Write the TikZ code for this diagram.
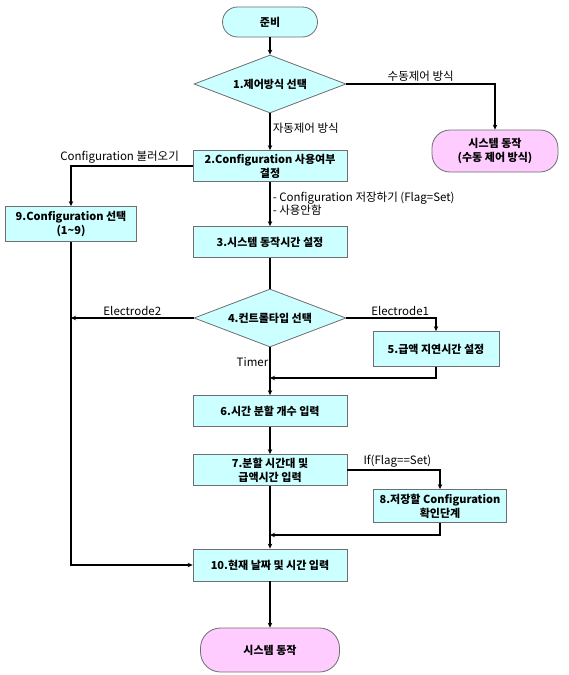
\documentclass[tikz,border=0pt]{standalone}
\usepackage{fontspec}
\setmainfont{Noto Sans CJK KR}
\usetikzlibrary{arrows.meta,shapes.geometric}
\definecolor{boxcyan}{RGB}{204,255,255}
\definecolor{termpink}{RGB}{255,204,255}
\definecolor{edgegray}{RGB}{110,110,110}
\tikzset{
  stepbox/.style={draw=edgegray, fill=boxcyan, align=center, line width=0.8pt,
                  font=\fontsize{11}{14}\selectfont\bfseries,
                  minimum width=154pt, minimum height=31pt, inner sep=2pt},
  choice/.style={diamond, draw=edgegray, fill=boxcyan, aspect=2.6, line width=0.8pt,
                 font=\fontsize{11}{14}\selectfont\bfseries,
                 minimum width=152pt, minimum height=58pt, inner sep=0pt},
  term/.style={draw=edgegray, rounded corners=15pt, align=center, line width=0.8pt,
               font=\fontsize{11}{14}\selectfont\bfseries, inner sep=2pt},
  lbl/.style={font=\fontsize{11.5}{13}\selectfont, inner sep=2pt},
  link/.style={-{Stealth[length=5pt,width=4.5pt]}, line width=1.5pt},
  wire/.style={line width=1.5pt}
}
\begin{document}
\begin{tikzpicture}[x=1pt,y=-1pt]
  \useasboundingbox (0,0) rectangle (568,675);
  \node[term, fill=boxcyan, minimum width=95pt, minimum height=30pt] (start) at (270,22) {준비};
  \node[choice] (d1) at (270,84) {1.제어방식 선택};
  \node[term, fill=termpink, rounded corners=18pt, minimum width=126pt, minimum height=42pt] (manual) at (495,151) {시스템 동작\\(수동 제어 방식)};
  \node[stepbox] (n2) at (270,166) {2.Configuration 사용여부\\결정};
  \node[stepbox, minimum width=131pt, minimum height=35pt] (n9) at (71,224) {9.Configuration 선택\\(1\textasciitilde 9)};
  \node[stepbox] (n3) at (270,242) {3.시스템 동작시간 설정};
  \node[choice] (d4) at (270,318) {4.컨트롤타입 선택};
  \node[stepbox, minimum width=126pt, minimum height=35pt] (n5) at (436,349) {5.급액 지연시간 설정};
  \node[stepbox] (n6) at (270,411) {6.시간 분할 개수 입력};
  \node[stepbox] (n7) at (270,470) {7.분할 시간대 및\\급액시간 입력};
  \node[stepbox, minimum width=133pt, minimum height=33pt] (n8) at (440,506) {8.저장할 Configuration\\확인단계};
  \node[stepbox, minimum height=32pt] (n10) at (270,565) {10.현재 날짜 및 시간 입력};
  \node[term, fill=termpink, rounded corners=20pt, minimum width=139pt, minimum height=44pt] (stop) at (270,650) {시스템 동작};
  \coordinate (j1) at (270,378);
  \coordinate (j2) at (270,535);
  % main column
  \draw[link] (start) -- (d1);
  \draw[link] (d1) -- node[lbl, pos=0.4, right]{자동제어 방식} (n2);
  \draw[link] (d1.east) -| node[lbl, pos=0.25, above]{수동제어 방식} (manual.north);
  \draw[link] (n2.west) -| node[lbl, pos=0.3, above]{Configuration 불러오기} (n9.north);
  \draw[link] (n2) -- node[lbl, right, align=left]{- Configuration 저장하기 (Flag=Set)\\- 사용안함} (n3);
  \draw[wire] (n3) -- (d4);
  \draw[link] (d4.west) -- node[lbl, above]{Electrode2} (d4.west -| n9.south);
  \draw[link] (d4.east) -| node[lbl, pos=0.3, above]{Electrode1} (n5.north);
  \draw[link] (d4) -- node[lbl, pos=0.3, left, inner sep=1pt]{Timer} (n6);
  \draw[link] (n5.south) |- (j1);
  \draw[link] (n6) -- (n7);
  \draw[link] (n7.east) -| node[lbl, pos=0.27, above]{If(Flag==Set)} (n8.north);
  \draw[link] (n7) -- (n10);
  \draw[link] (n8.south) |- (j2);
  \draw[link] (n9.south) |- (n10.west);
  \draw[link] (n10) -- (stop);
\end{tikzpicture}
\end{document}
